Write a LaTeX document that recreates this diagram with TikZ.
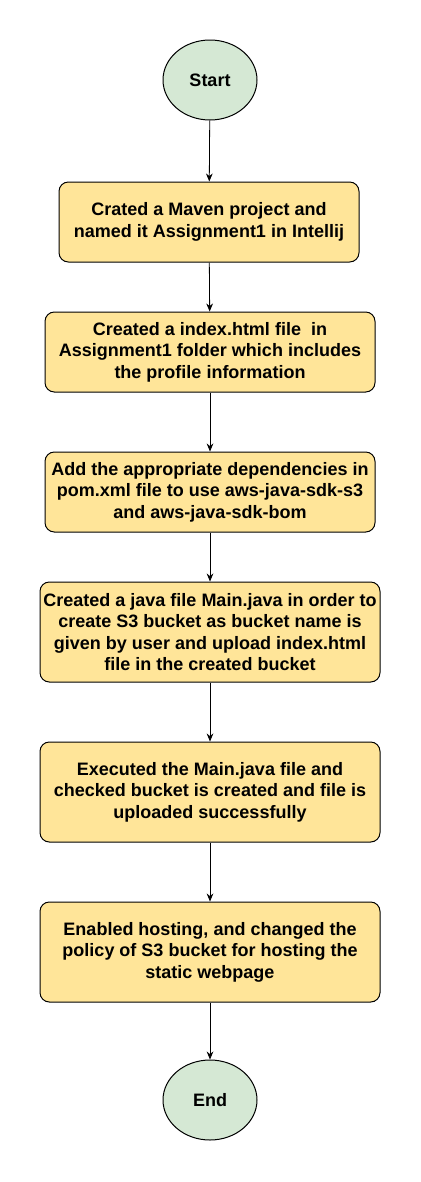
\documentclass[tikz,border=0pt]{standalone}
\usepackage{fontspec}
\setmainfont{Liberation Sans}
\usetikzlibrary{arrows.meta, shapes.geometric}
\definecolor{stepyellow}{HTML}{FFE599}
\definecolor{termgreen}{HTML}{D5E8D4}

\begin{document}
\begin{tikzpicture}[
  x=0.75pt, y=-0.75pt,
  every node/.style={font=\fontsize{13.5pt}{16.2pt}\selectfont\bfseries},
  stepbox/.style={
    draw=black, fill=stepyellow, rounded corners=7pt,
    align=center, minimum height=60pt, inner sep=1pt, line width=0.75pt
  },
  term/.style={
    ellipse, draw=black, fill=termgreen, line width=0.75pt,
    minimum width=70.5pt, minimum height=60pt, inner sep=0pt
  },
  arrow/.style={-{Stealth[length=6pt, width=5pt]}, line width=0.6pt, color=black}
]
  \useasboundingbox (0,0) rectangle (421,1182);

  % Nodi principali (colonna centrale)
  \node[term] (start) at (210,80) {Start};
  \node[stepbox, minimum width=225pt] (maven) at (209,222)
    {Crated a Maven project and\\named it Assignment1 in Intellij};
  \node[stepbox, minimum width=247.5pt] (index) at (210,352)
    {Created a index.html file\ \ in\\Assignment1 folder which includes\\the profile information};
  \node[stepbox, minimum width=247.5pt] (pom) at (210,492)
    {Add the appropriate dependencies in\\pom.xml file to use aws-java-sdk-s3\\and aws-java-sdk-bom};
  \node[stepbox, minimum width=255pt, minimum height=75pt] (mainjava) at (210,632)
    {Created a java file Main.java in order to\\create S3 bucket as bucket name is\\given by user and upload index.html\\file in the created bucket};
  \node[stepbox, minimum width=255pt, minimum height=75pt] (exec) at (210,792)
    {Executed the Main.java file and\\checked bucket is created and file is\\uploaded successfully};
  \node[stepbox, minimum width=255pt, minimum height=75pt] (hosting) at (210,952)
    {Enabled hosting, and changed the\\policy of S3 bucket for hosting the\\static webpage};
  \node[term] (end) at (210,1100) {End};

  % Frecce verticali
  \draw[arrow] (start) -- (maven);
  \draw[arrow] (maven) -- (index);
  \draw[arrow] (index) -- (pom);
  \draw[arrow] (pom) -- (mainjava);
  \draw[arrow] (mainjava) -- (exec);
  \draw[arrow] (exec) -- (hosting);
  \draw[arrow] (hosting) -- (end);

\end{tikzpicture}
\end{document}
